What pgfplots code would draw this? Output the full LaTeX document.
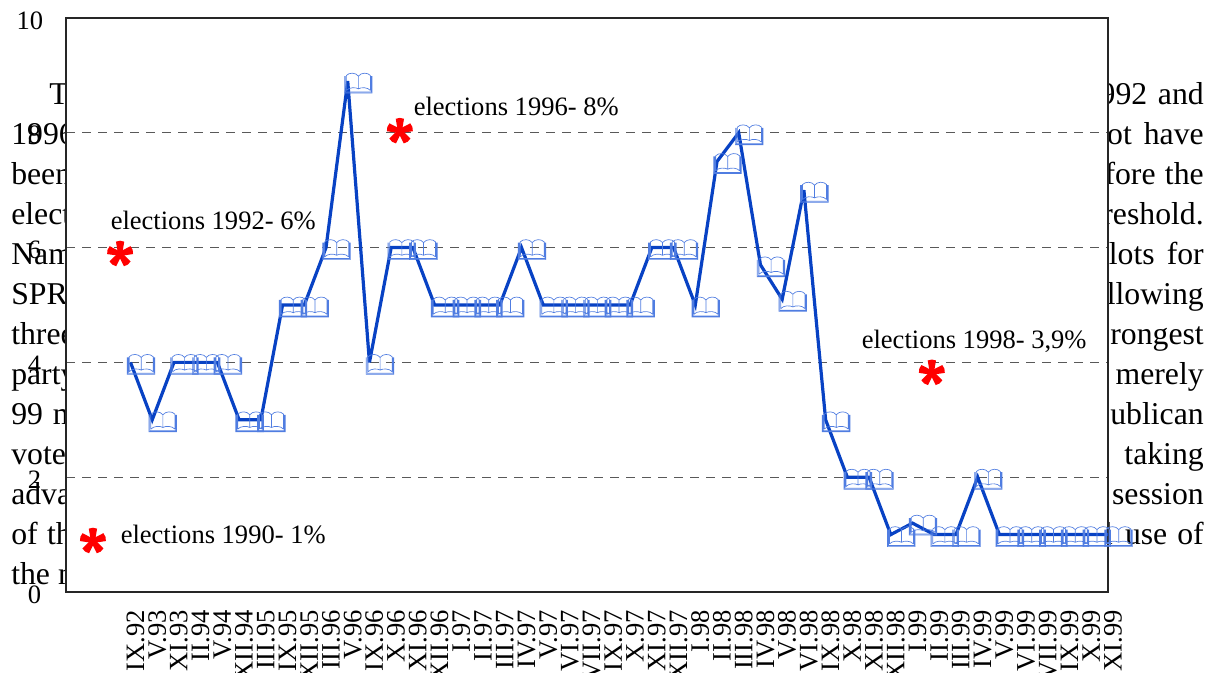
\documentclass[border=0pt]{standalone}
\usepackage{fontspec}
\setmainfont{Liberation Serif}
\usepackage{pgfplots}
\usepackage{pgfplotstable}
\pgfplotsset{compat=1.18}
\definecolor{linecol}{RGB}{8,66,196}
\definecolor{bookcol}{RGB}{80,125,225}
\pgfplotstableread{
x y
0 4
1 3
2 4
3 4
4 4
5 3
6 3
7 5
8 5
9 6
10 8.9
11 4
12 6
13 6
14 5
15 5
16 5
17 5
18 6
19 5
20 5
21 5
22 5
23 5
24 6
25 6
26 5
27 7.5
28 8
29 5.7
30 5.1
31 7
32 3
33 2
34 2
35 1
36 1.2
37 1
38 1
39 2
40 1
41 1
42 1
43 1
44 1
45 1
}\trust
\pgfplotstableread{
x y
-1.73 0.89
-0.48 5.89
12.40 8.03
36.89 3.82
}\elect
\pgfdeclareplotmark{book}{%
  % outer cover
  \pgfpathmoveto{\pgfqpoint{-2.5pt}{3.75pt}}
  \pgfpathlineto{\pgfqpoint{-2.5pt}{-9pt}}
  \pgfpathlineto{\pgfqpoint{18.25pt}{-9pt}}
  \pgfpathlineto{\pgfqpoint{18.25pt}{3.75pt}}
  % inner cover
  \pgfpathmoveto{\pgfqpoint{-1.75pt}{3.75pt}}
  \pgfpathlineto{\pgfqpoint{-1.75pt}{-8.2pt}}
  \pgfpathlineto{\pgfqpoint{17.6pt}{-8.2pt}}
  \pgfpathlineto{\pgfqpoint{17.6pt}{3.75pt}}
  % left page
  \pgfpathmoveto{\pgfqpoint{-1pt}{-7pt}}
  \pgfpathlineto{\pgfqpoint{-1pt}{4.25pt}}
  \pgfpathcurveto{\pgfqpoint{1pt}{6.6pt}}{\pgfqpoint{6pt}{6.6pt}}{\pgfqpoint{8pt}{3.75pt}}
  \pgfpathlineto{\pgfqpoint{8pt}{-5.75pt}}
  \pgfpathcurveto{\pgfqpoint{6pt}{-4.5pt}}{\pgfqpoint{1pt}{-4.5pt}}{\pgfqpoint{-1pt}{-7pt}}
  % right page
  \pgfpathmoveto{\pgfqpoint{17pt}{-7pt}}
  \pgfpathlineto{\pgfqpoint{17pt}{4.25pt}}
  \pgfpathcurveto{\pgfqpoint{15pt}{6.6pt}}{\pgfqpoint{10pt}{6.6pt}}{\pgfqpoint{8pt}{3.75pt}}
  \pgfpathmoveto{\pgfqpoint{8pt}{-5.75pt}}
  \pgfpathcurveto{\pgfqpoint{10pt}{-4.5pt}}{\pgfqpoint{15pt}{-4.5pt}}{\pgfqpoint{17pt}{-7pt}}
  \pgfusepathqstroke
}
\pgfdeclareplotmark{star5}{%
  \foreach \a in {90,162,234,306,18}{%
    \pgfscope
    \pgftransformrotate{\a}
    \pgfpathmoveto{\pgfqpoint{-0.5pt}{-1.5pt}}
    \pgfpathlineto{\pgfqpoint{9.2pt}{-3.1pt}}
    \pgfpathlineto{\pgfqpoint{9.9pt}{0pt}}
    \pgfpathlineto{\pgfqpoint{9.2pt}{3.1pt}}
    \pgfpathlineto{\pgfqpoint{-0.5pt}{1.5pt}}
    \pgfpathclose
    \pgfusepathqfill
    \endpgfscope
  }%
}
\begin{document}
\begin{tikzpicture}
\path[use as bounding box] (0,0) rectangle (914.25pt,504.75pt);
\clip (0,0) rectangle (914.25pt,504.75pt);
% body text behind the plot area
\begin{scope}[x=0.75pt,y=-0.75pt,yshift=504.75pt,
  bt/.style={inner sep=0pt,font=\fontsize{23.8pt}{26pt}\selectfont}]
\node[bt,anchor=base west] at (49,104.5) {T};
\node[bt,anchor=base west] at (11,144.5) {1996};
\node[bt,anchor=base west] at (11,184.5) {been};
\node[bt,anchor=base west] at (11,224.5) {elect};
\node[bt,anchor=base west] at (11,264.5) {Nam};
\node[bt,anchor=base west] at (11,304.5) {SPR};
\node[bt,anchor=base west] at (11,344.5) {three};
\node[bt,anchor=base west] at (11,384.5) {party};
\node[bt,anchor=base west] at (11,424.5) {99\hspace{7.5pt}m};
\node[bt,anchor=base west] at (11,464.5) {vote};
\node[bt,anchor=base west] at (11,504.5) {adva};
\node[bt,anchor=base west] at (11,544.5) {of\hspace{7pt}th};
\node[bt,anchor=base west] at (11,584.5) {the\hspace{6pt}m};
\node[bt,anchor=base east] at (1204,104.5) {992\hspace{8pt}and};
\node[bt,anchor=base east] at (1204,144.5) {ot\hspace{9pt}have};
\node[bt,anchor=base east] at (1204,184.5) {fore\hspace{7pt}the};
\node[bt,anchor=base east] at (1204,224.5) {reshold.};
\node[bt,anchor=base east] at (1204,264.5) {lots\hspace{9pt}for};
\node[bt,anchor=base east] at (1204,304.5) {llowing};
\node[bt,anchor=base east] at (1204,344.5) {rongest};
\node[bt,anchor=base east] at (1204,384.5) {merely};
\node[bt,anchor=base east] at (1204,424.5) {ublican};
\node[bt,anchor=base east] at (1204,464.5) {taking};
\node[bt,anchor=base east] at (1204,504.5) {session};
\node[bt,anchor=base east] at (1204,544.5) {l\hspace{9pt}use\hspace{7.5pt}of};
\end{scope}
\begin{axis}[
  at={(49.5pt,60.75pt)}, anchor=south west,
  scale only axis, width=781.5pt, height=430.5pt,
  xmin=-2.97, xmax=45, ymin=0, ymax=10,
  clip=false,
  axis background/.style={fill=white},
  axis line style={line width=1.1pt,black!85},
  major tick length=0pt,
  ytick={0,2,4,6,8,10},
  yticklabels={0,2,4,6,8,10\kern-1.5pt},
  ymajorgrids,
  grid style={dash pattern=on 6.5pt off 5.5pt,line width=0.75pt,black!65},
  xtick={0,...,45},
  xticklabels={IX.92,V.93,XI.93,II.94,V.94,XII.94,III.95,IX.95,XII.95,III.96,V.96,IX.96,X.96,XI.96,XII.96,I.97,II.97,III.97,IV.97,V.97,VI.97,VII.97,IX.97,X.97,XI.97,XII.97,I.98,II.98,III.98,IV.98,V.98,VI.98,IX.98,X.98,XI.98,XII.98,I.99,II.99,III.99,IV.99,V.99,VI.99,VII.99,IX.99,X.99,XI.99},
  /pgf/number format/assume math mode=true,
  tick label style={font=\fontsize{19.9pt}{22pt}\selectfont,inner sep=0pt},
  xticklabel style={rotate=90,anchor=east,xshift=-13.5pt,yshift=-3.7pt},
  yticklabel style={anchor=east,xshift=-18.5pt,yshift=-1.75pt},
]
\addplot[draw=none,mark=book,mark options={draw=bookcol,line width=0.5pt,solid}] table {\trust};
\addplot[linecol,line width=2.4pt,mark=none,miter limit=4] table {\trust};
\addplot[only marks,mark=star5,mark options={fill=red,draw=none}] table {\elect};
\end{axis}
\begin{scope}[x=0.75pt,y=-0.75pt,yshift=504.75pt,
  lb/.style={inner sep=0pt,anchor=base west,font=\fontsize{19.9pt}{22pt}\selectfont}]
\node[lb] at (413.5,116) {elections 1996- 8\%};
\node[lb] at (110.5,230) {elections 1992- 6\%};
\node[lb] at (120.5,544) {elections 1990- 1\%};
\node[lb] at (861.5,349) {elections 1998- 3,9\%};
\end{scope}
\end{tikzpicture}
\end{document}
